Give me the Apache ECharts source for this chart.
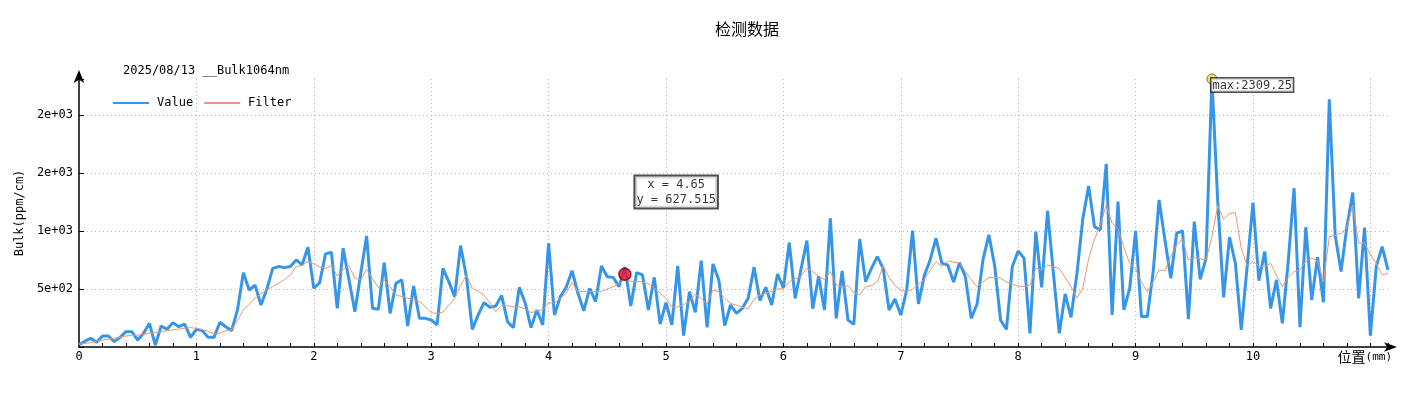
<!DOCTYPE html>
<html><head><meta charset="utf-8">
<script src="https://cdn.jsdelivr.net/npm/echarts@6/dist/echarts.min.js"></script>
<style>html,body{margin:0;padding:0;background:#fff}#c{width:1421px;height:413px}</style>
</head><body><div id="c"></div>
<script>
// sampling step of the measurement (mm)
const sampleStep = 0.05;
const valueData = [
20,50,75,40,95,95,46,83,132,132,60,118,204,17,181,152,210,175,198,83,
152,141,83,83,213,175,141,320,641,491,532,362,497,678,693,684,693,750,707,859,
506,555,802,816,333,851,578,305,635,957,333,325,727,290,549,578,181,526,247,247,
233,190,678,563,434,874,606,152,276,382,342,354,443,218,167,514,382,167,319,190,
894,276,434,514,658,463,313,506,391,698,606,600,520,690,353,641,621,319,600,198,
382,190,698,98,477,299,744,170,716,578,184,362,290,333,420,687,400,514,362,629,
510,900,420,670,917,330,610,319,1109,247,655,233,195,930,563,678,779,678,319,414,
276,491,1003,371,615,750,937,721,707,560,727,606,247,371,750,966,700,230,152,693,
828,764,118,994,514,1173,635,118,457,256,630,1100,1388,1035,1009,1578,276,1253,319,506,
1000,262,262,650,1267,922,592,980,1000,239,1081,583,764,2309.25,1250,428,946,721,147,693,
1244,572,822,333,578,204,736,1368,170,1032,405,773,385,2135,966,650,1037,1331,420,1029,
98,693,865,664];
const filterData = [
26,30,37,50,60,68,75,85,95,100,103,110,118,125,132,140,147,155,161,167,
161,150,135,110,120,141,147,230,319,370,420,460,491,520,549,580,620,690,704,736,
715,690,678,700,612,670,700,592,578,670,590,510,578,520,448,435,420,405,391,348,
295,290,300,360,420,530,621,506,480,448,380,305,362,355,348,345,330,296,310,319,
382,378,420,463,555,477,477,477,477,477,500,520,549,583,565,563,563,545,510,463,
420,342,345,365,391,457,420,371,491,477,420,376,360,342,330,411,448,463,480,500,
500,560,589,610,678,650,610,580,650,540,510,530,468,448,520,530,560,700,600,530,
491,480,497,540,580,660,736,693,742,730,727,650,580,520,560,598,600,592,560,540,
525,520,535,678,664,707,690,678,600,520,420,506,760,930,1050,1224,1066,1020,860,720,
670,560,477,560,664,658,779,880,930,750,770,760,750,950,1216,1101,1150,1158,850,700,
736,700,690,721,620,520,600,650,664,740,764,745,563,951,960,980,1030,1224,894,894,
800,721,620,635];
const positions = valueData.map((_, i) => +(i * sampleStep).toFixed(2));
const xTickLabels = ['0','1','2','3','4','5','6','7','8','9','10'];
const yTickLabels = {500:'5e+02', 1000:'1e+03', 1500:'2e+03', 2000:'2e+03'};
const maxPoint = [9.65, 2309.25];
const cursorPoint = [4.65, 627.515];

const mono = 'DejaVu Sans Mono';
const chart = echarts.init(document.getElementById('c'));
chart.setOption({
  animation: false,
  backgroundColor: '#fff',
  title: [
    {text: '检测数据', left: 747, top: 21, textAlign: 'center', padding: 0,
     textStyle: {fontFamily: 'Noto Sans CJK SC', fontSize: 16, fontWeight: 'normal', color: '#000'}},
    {text: '2025/08/13 __Bulk1064nm', left: 123, top: 65, padding: 0,
     textStyle: {fontFamily: mono, fontSize: 12, fontWeight: 'normal', color: '#000'}}
  ],
  legend: {
    data: ['Value', 'Filter'], left: 112, top: 97, padding: 0,
    itemWidth: 36, itemHeight: 14, itemGap: 10,
    itemStyle: {opacity: 0},
    textStyle: {fontFamily: mono, fontSize: 12, color: '#000', padding: [0, 0, 0, 3]}
  },
  grid: {left: 79, right: 33, top: 79, bottom: 66},
  xAxis: {
    type: 'value', min: 0, max: 'dataMax', interval: 1,
    name: '{a|位置}{b|(mm)}', nameLocation: 'end', nameGap: 4,
    nameTextStyle: {align: 'right', verticalAlign: 'top', padding: [3, 0, 0, 0],
      rich: {a: {fontFamily: 'Noto Sans CJK SC', fontSize: 14, color: '#000'},
             b: {fontFamily: mono, fontSize: 11, color: '#000'}}},
    axisLine: {show: true, onZero: false, symbol: ['none', 'arrow'], symbolSize: [7, 13], symbolOffset: [0, 9],
      lineStyle: {color: '#000', width: 1.5}},
    axisTick: {show: true, inside: true, length: 4, lineStyle: {color: '#000'}},
    minorTick: {show: true, splitNumber: 5, length: 4, lineStyle: {color: '#000'}},
    axisLabel: {margin: 4, fontFamily: mono, fontSize: 12, color: '#000',
      formatter: v => { const s = String(v); return xTickLabels.includes(s) ? s : ''; }},
    splitLine: {show: true, showMinLine: false, showMaxLine: false, lineStyle: {type: [1, 3], color: '#b4b4b4'}}
  },
  yAxis: {
    type: 'value', min: 0, max: 'dataMax', interval: 500,
    name: 'Bulk(ppm/cm)', nameLocation: 'middle', nameGap: 52, nameRotate: 90,
    nameTextStyle: {fontFamily: mono, fontSize: 12, color: '#000'},
    axisLine: {show: true, onZero: false, symbol: ['none', 'arrow'], symbolSize: [8, 13], symbolOffset: [0, 9],
      lineStyle: {color: '#000', width: 1.5}},
    axisTick: {show: true, inside: true, length: 5, lineStyle: {color: '#000'}},
    axisLabel: {margin: 6, fontFamily: mono, fontSize: 12, color: '#000',
      formatter: v => yTickLabels[v] || ''},
    splitLine: {show: true, showMinLine: false, showMaxLine: false, lineStyle: {type: [1, 3], color: '#b4b4b4'}}
  },
  series: [
    {name: 'Value', type: 'line', symbol: 'none', clip: false,
     data: positions.map((x, i) => [x, valueData[i]]),
     lineStyle: {color: '#3795e8', width: 3}, itemStyle: {color: '#3795e8'}},
    {name: 'Filter', type: 'line', symbol: 'none', clip: false,
     data: positions.map((x, i) => [x, filterData[i]]),
     lineStyle: {color: '#e89872', width: 1}, itemStyle: {color: '#e89872'}},
    {name: 'max', type: 'scatter', clip: false, z: 5, symbolSize: 10,
     data: [maxPoint],
     itemStyle: {color: '#f7e21c', borderColor: '#555', borderWidth: 1},
     label: {show: true, position: [5, 5], align: 'left', verticalAlign: 'top',
       formatter: () => 'max:' + maxPoint[1].toFixed(2),
       fontFamily: mono, fontSize: 12, color: '#000', backgroundColor: '#fff',
       borderColor: '#222', borderWidth: 1.5, padding: [1, 1, 0, 1]}},
    {name: 'cursor', type: 'scatter', clip: false, z: 5, symbolSize: 12,
     data: [cursorPoint],
     itemStyle: {color: '#e8102a', borderColor: '#6a0012', borderWidth: 1.5},
     label: {show: true, position: [58, -91], align: 'center', verticalAlign: 'top',
       formatter: () => 'x = ' + cursorPoint[0] + '\ny = ' + cursorPoint[1],
       fontFamily: mono, fontSize: 12, lineHeight: 15, color: '#000', backgroundColor: '#fff',
       borderColor: '#222', borderWidth: 2, padding: [1, 1, 0, 1]}}
  ]
});
</script></body></html>
